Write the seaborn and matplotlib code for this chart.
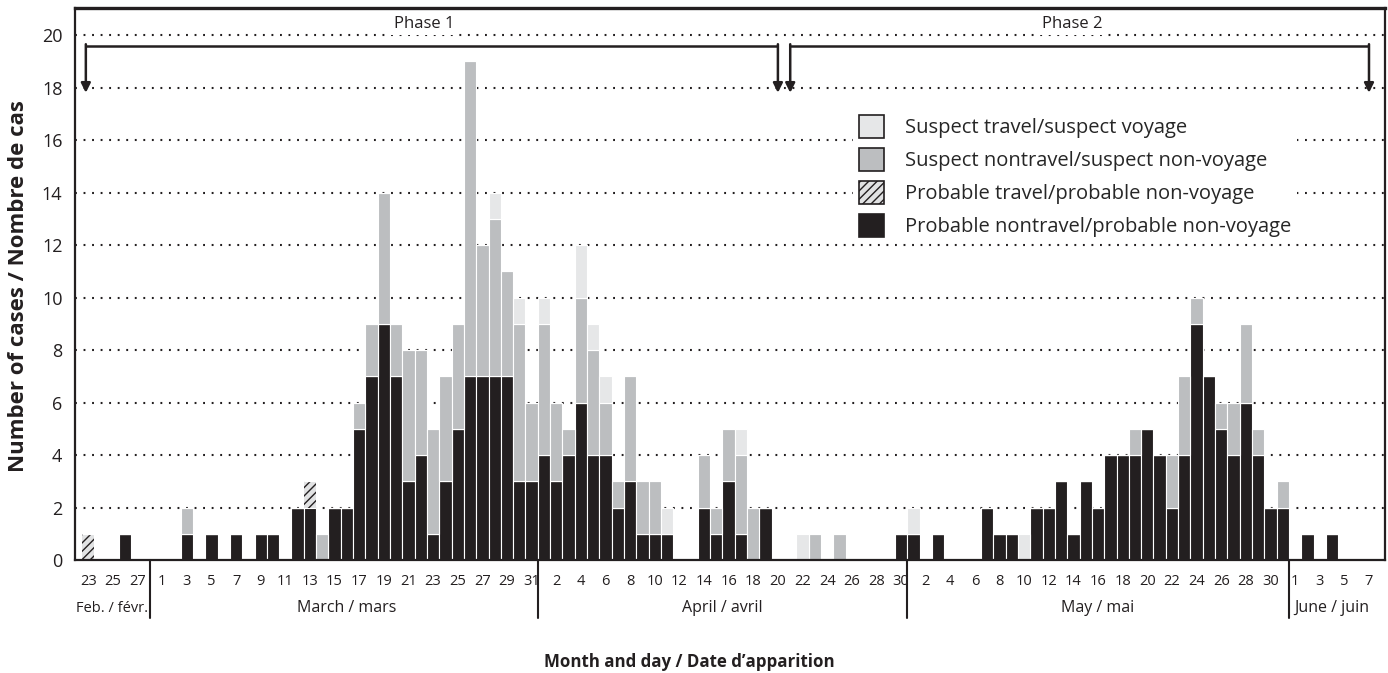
import numpy as np
import pandas as pd
import matplotlib
matplotlib.use("Agg")
import matplotlib.pyplot as plt
import matplotlib.transforms as mtrans
from matplotlib.patches import Patch
from matplotlib.colors import to_rgba
import seaborn as sns

# daily case counts, one value per day from Feb 23 to Jun 7
prob_nontravel = (
    [0, 0, 0, 1, 0, 0]                                                    # Feb 23-28
    + [0, 0, 1, 0, 1, 0, 1, 0, 1, 1, 0, 2, 2, 0, 2, 2, 5, 7, 9, 7,
       3, 4, 1, 3, 5, 7, 7, 7, 7, 3, 3]                                   # March
    + [4, 3, 4, 6, 4, 4, 2, 3, 1, 1, 1, 0, 0, 2, 1, 3, 1, 0, 2, 0,
       0, 0, 0, 0, 0, 0, 0, 0, 0, 1]                                      # April
    + [1, 0, 1, 0, 0, 0, 2, 1, 1, 0, 2, 2, 3, 1, 3, 2, 4, 4, 4, 5,
       4, 2, 4, 9, 7, 5, 4, 6, 4, 2, 2]                                   # May
    + [0, 1, 0, 1, 0, 0, 0]                                               # June 1-7
)
prob_travel = (
    [1, 0, 0, 0, 0, 0]
    + [0, 0, 0, 0, 0, 0, 0, 0, 0, 0, 0, 0, 1, 0, 0, 0, 0, 0, 0, 0,
       0, 0, 0, 0, 0, 0, 0, 0, 0, 0, 0]
    + [0] * 30
    + [0] * 31
    + [0] * 7
)
susp_nontravel = (
    [0, 0, 0, 0, 0, 0]
    + [0, 0, 1, 0, 0, 0, 0, 0, 0, 0, 0, 0, 0, 1, 0, 0, 1, 2, 5, 2,
       5, 4, 4, 4, 4, 12, 5, 6, 4, 6, 3]
    + [5, 3, 1, 4, 4, 2, 1, 4, 2, 2, 0, 0, 0, 2, 1, 2, 3, 2, 0, 0,
       0, 0, 1, 0, 1, 0, 0, 0, 0, 0]
    + [0, 0, 0, 0, 0, 0, 0, 0, 0, 0, 0, 0, 0, 0, 0, 0, 0, 0, 1, 0,
       0, 2, 3, 1, 0, 1, 2, 3, 1, 0, 1]
    + [0] * 7
)
susp_travel = (
    [0, 0, 0, 0, 0, 0]
    + [0, 0, 0, 0, 0, 0, 0, 0, 0, 0, 0, 0, 0, 0, 0, 0, 0, 0, 0, 0,
       0, 0, 0, 0, 0, 0, 0, 1, 0, 1, 0]
    + [1, 0, 0, 2, 1, 1, 0, 0, 0, 0, 1, 0, 0, 0, 0, 0, 1, 0, 0, 0,
       0, 1, 0, 0, 0, 0, 0, 0, 0, 0]
    + [1, 0, 0, 0, 0, 0, 0, 0, 0, 1, 0, 0, 0, 0, 0, 0, 0, 0, 0, 0,
       0, 0, 0, 0, 0, 0, 0, 0, 0, 0, 0]
    + [0] * 7
)

categories = ["Suspect travel/suspect voyage",
              "Suspect nontravel/suspect non-voyage",
              "Probable travel/probable non-voyage",
              "Probable nontravel/probable non-voyage"]
month_names = {2: "Feb. / févr.", 3: "March / mars", 4: "April / avril",
               5: "May / mai", 6: "June / juin"}
phases = [("Phase 1", "2003-02-23", "2003-04-20"),
          ("Phase 2", "2003-04-21", "2003-06-07")]

BLACK = "#231f20"; GREY = "#bcbec0"; LIGHT = "#e6e7e8"; HFILL = "#e1e2e3"
PALETTE = dict(zip(categories, [LIGHT, GREY, HFILL, BLACK]))

sns.set_style("white")
plt.rcParams["font.family"] = ["Open Sans", "DejaVu Sans"]
plt.rcParams["hatch.linewidth"] = 1.0

dates = pd.date_range("2003-02-23", "2003-06-07", freq="D")
day = np.arange(len(dates))
counts = [susp_travel, susp_nontravel, prob_travel, prob_nontravel]
df = pd.DataFrame({"day": np.tile(day, len(categories)),
                   "cat": np.repeat(categories, len(day)),
                   "n": np.concatenate(counts)})

fig = plt.figure(figsize=(13.88, 6.73), dpi=100)
ax = fig.add_axes([75/1388, 113/673, 1310/1388, 552/673])

# dotted reference lines
for v in range(2, 21, 2):
    ax.axhline(v, color=BLACK, lw=1.5, ls=(0, (0.9, 3.2)), zorder=0.5)

sns.histplot(data=df, x="day", weights="n", hue="cat", hue_order=categories,
             multiple="stack", discrete=True, shrink=1, palette=PALETTE,
             alpha=1, edgecolor="white", linewidth=0.8, legend=False, ax=ax)

for p in ax.patches:
    if np.allclose(p.get_facecolor(), to_rgba(HFILL), atol=1e-3) and p.get_height() > 0:
        p.set_hatch("////"); p.set_edgecolor(BLACK); p.set_linewidth(0)

ax.set_xlim(-1.08, 105.3)
ax.set_ylim(0, 21.03)
ax.set_yticks(range(0, 21, 2))
ax.set_xticks(day)
ax.set_xticklabels([str(d.day) if i % 2 == 0 else "" for i, d in enumerate(dates)])
ax.tick_params(axis="x", length=5, width=1.5, color=BLACK, pad=5, labelsize=10.5,
               labelcolor=BLACK)
ax.tick_params(axis="y", length=0, pad=9, labelsize=13, labelcolor=BLACK)
for sp in ax.spines.values():
    sp.set_visible(True); sp.set_color(BLACK); sp.set_linewidth(1.6)
ax.spines["top"].set_linewidth(2.4)

# month separators and names
trans = mtrans.blended_transform_factory(ax.transData, ax.transAxes)
seps = [5, 36.5, 66.5, 97.5]
for xs in seps:
    ax.plot([xs, xs], [0, -0.105], transform=trans, color=BLACK, lw=1.5, clip_on=False)
for m, name in month_names.items():
    xc = day[dates.month == m].mean()
    fs = 11.5
    if m == 2:
        xc = (ax.get_xlim()[0] + seps[0]) / 2 - 0.05
        fs = 10.5
    ax.text(xc, -0.087, name, transform=trans,
            ha="center", va="center", fontsize=fs, color=BLACK)

# phase brackets
for label, d0, d1 in phases:
    x0 = dates.get_loc(pd.Timestamp(d0)); x1 = dates.get_loc(pd.Timestamp(d1))
    if x0 == 0:
        x0 = -0.2
    ax.plot([x0, x1], [19.6, 19.6], color=BLACK, lw=1.8, solid_capstyle="butt", zorder=4)
    for xe in (x0, x1):
        ax.annotate("", xy=(xe, 17.8), xytext=(xe, 19.65),
                    arrowprops=dict(arrowstyle="-|>", color=BLACK, lw=1.8,
                                    mutation_scale=14, shrinkA=0, shrinkB=0), zorder=4)
    ax.text((x0 + x1) / 2 - 0.6, 20.12, label, ha="center", va="bottom", fontsize=12,
            color=BLACK, zorder=4,
            bbox=dict(facecolor="white", edgecolor="none", pad=2.5))

handles = [Patch(facecolor=PALETTE[c], edgecolor=BLACK, linewidth=1.2,
                 hatch="////" if c == categories[2] else None) for c in categories]
leg = ax.legend(handles=handles, labels=categories, loc="upper left",
                bbox_to_anchor=(0.586, 0.835), frameon=True, facecolor="white",
                edgecolor="none", framealpha=1, fontsize=14.5, handlelength=1.24,
                handleheight=1.34, handletextpad=1.05, labelspacing=0.5,
                borderpad=0.3, fancybox=False)

ax.set_xlabel("Month and day / Date d’apparition", fontsize=12.2, fontweight="bold",
              color=BLACK, va="center")
ax.xaxis.set_label_coords(0.469, -0.185)
ax.set_ylabel("Number of cases / Nombre de cas", fontsize=16, fontweight="bold",
              color=BLACK, va="center")
ax.yaxis.set_label_coords(-0.0435, 0.497)

fig.savefig("out.png", dpi=100, facecolor="white")
